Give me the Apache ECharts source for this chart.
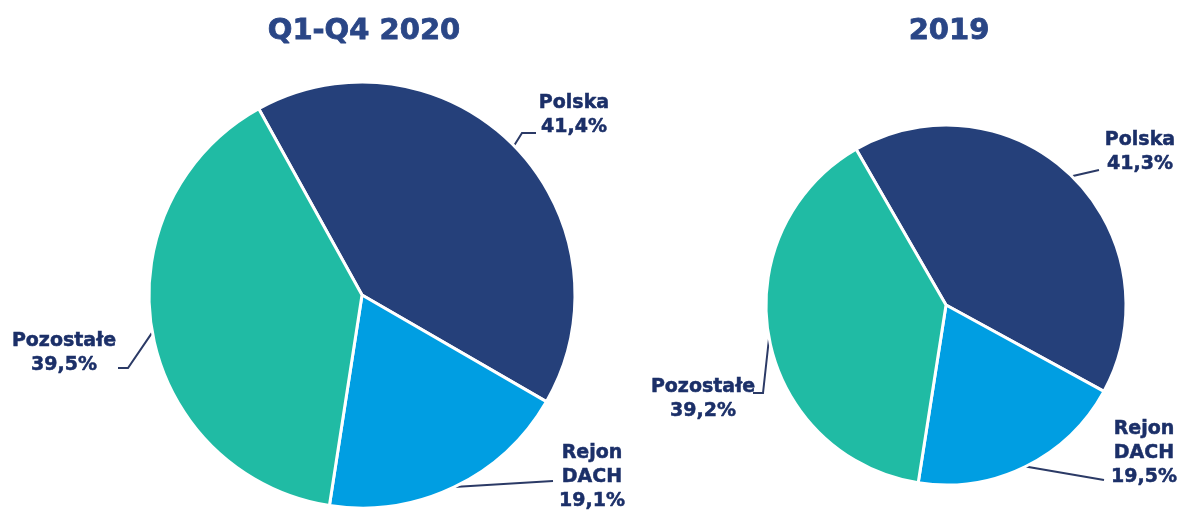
<!DOCTYPE html>
<html>
<head>
<meta charset="utf-8">
<script src="https://cdn.jsdelivr.net/npm/echarts@6/dist/echarts.min.js"></script>
<style>
  html, body { margin: 0; padding: 0; background: #fff; }
  #chart { width: 1183px; height: 510px; }
</style>
</head>
<body>
<div id="chart"></div>
<script>
// data
let categories = ['Polska', 'Rejon DACH', 'Pozostałe'];
let labelNames = ['Polska', 'Rejon\nDACH', 'Pozostałe'];
let titles = ['Q1-Q4 2020', '2019'];
let values2020 = [41.4, 19.1, 39.5];
let values2019 = [41.3, 19.5, 39.2];

let colors = ['#25407a', '#009ee2', '#20bba4'];
let labelColor = '#1b2f68';
let titleColor = '#2a4686';
let fontFamily = '"DejaVu Sans", Verdana, sans-serif';

// label placement (pixels): label centre, then line bend points after the slice edge
let labelPlaces = [
    [
        { x: 574, y: 115, line: [[522, 133], [536, 133]] },
        { x: 592, y: 477, line: [[553, 481]] },
        { x: 64, y: 353, line: [[128, 368], [118, 368]] }
    ],
    [
        { x: 1140, y: 152, line: [[1099, 170]] },
        { x: 1144, y: 453, line: [[1104, 480]] },
        { x: 703, y: 399, line: [[763, 393], [753, 393]] }
    ]
];

function buildData(values) {
    return values.map(function (v, i) {
        return { name: categories[i], value: v, itemStyle: { color: colors[i] } };
    });
}

function pieSeries(idx, values, center, radius, startAngle) {
    return {
        type: 'pie',
        center: center,
        radius: radius,
        startAngle: startAngle,
        clockwise: true,
        avoidLabelOverlap: false,
        animation: false,
        itemStyle: { borderColor: '#fff', borderWidth: 3 },
        label: {
            show: true,
            position: 'outside',
            alignTo: 'none',
            color: labelColor,
            fontFamily: fontFamily,
            fontWeight: 'bold',
            fontSize: 19,
            lineHeight: 24,
            textBorderColor: labelColor,
            textBorderWidth: 0.5,
            align: 'center',
            formatter: function (p) {
                return labelNames[p.dataIndex] + '\n' + p.value.toFixed(1).replace('.', ',') + '%';
            }
        },
        labelLine: {
            show: true,
            length: 10,
            length2: 10,
            lineStyle: { color: '#2b3a66', width: 2 }
        },
        labelLayout: function (params) {
            let place = labelPlaces[idx][params.dataIndex];
            let start = params.labelLinePoints ? params.labelLinePoints[0] : [place.x, place.y];
            return {
                x: place.x,
                y: place.y,
                align: 'center',
                verticalAlign: 'middle',
                labelLinePoints: [start].concat(place.line)
            };
        },
        emphasis: { disabled: true },
        data: buildData(values)
    };
}

let titleStyle = {
    color: titleColor, fontFamily: fontFamily, fontWeight: 'bold', fontSize: 29,
    textBorderColor: titleColor, textBorderWidth: 0.8
};

let chart = echarts.init(document.getElementById('chart'));
chart.setOption({
    backgroundColor: '#fff',
    title: [
        { text: titles[0], left: 359, top: 12, textAlign: 'center', textStyle: titleStyle },
        { text: titles[1], left: 944, top: 12, textAlign: 'center', textStyle: titleStyle }
    ],
    series: [
        pieSeries(0, values2020, [362, 295], 213, 119),
        pieSeries(1, values2019, [946, 305], 180, 120)
    ]
});
</script>
</body>
</html>
